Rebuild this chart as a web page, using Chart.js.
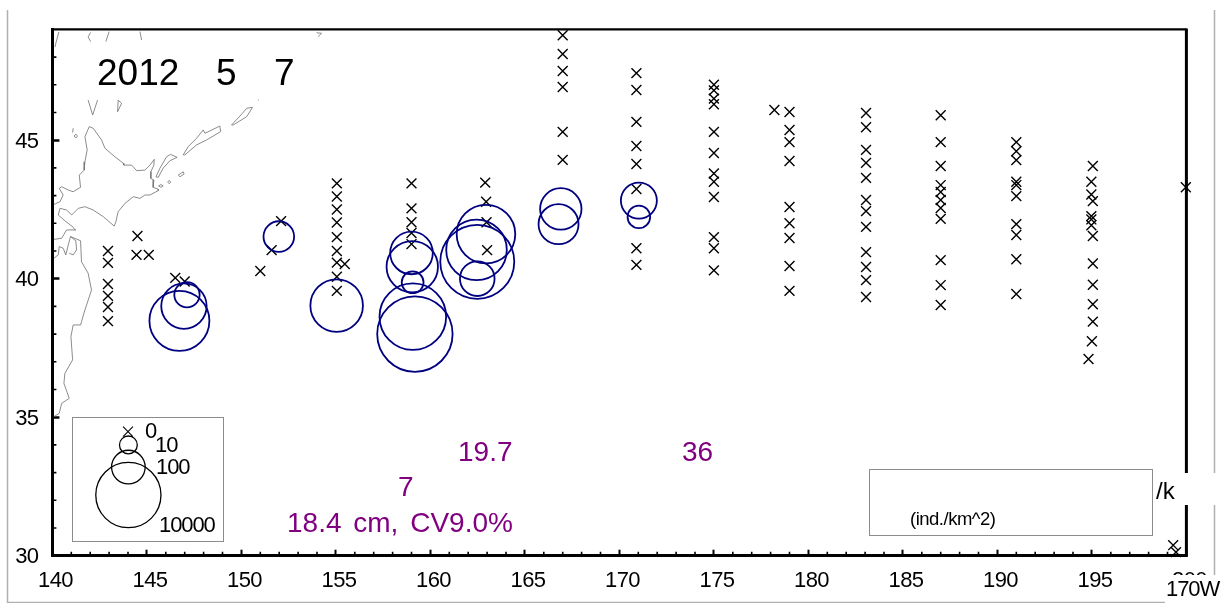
<!DOCTYPE html>
<html><head><meta charset="utf-8">
<style>html,body{margin:0;padding:0;background:#fff}canvas{display:block}</style>
<script src="https://cdn.jsdelivr.net/npm/chart.js@4/dist/chart.umd.min.js"></script>
</head><body><canvas id="c" width="1229" height="603" style="width:1229px;height:603px"></canvas>
<script>
const xTicks=[140,145,150,155,160,165,170,175,180,185,190,195,200];
const yTicks=[30,35,40,45];
const stationLon=[142.94,142.94,142.94,142.94,142.94,142.94,144.5,144.45,145.1,146.5,147.0,151.0,151.6,152.1,
155.05,155.05,155.05,155.05,155.05,155.05,155.05,155.05,155.05,155.47,
159.0,159.0,159.0,159.0,159.0,162.9,162.95,162.97,163.0,
167,167,167,167,167,167,
170.9,170.9,170.9,170.9,170.9,170.9,170.9,170.9,
175,175,175,175,175,175,175,175,175,175,175,175,
178.2,179,179,179,179,179,179,179,179,179,
183.05,183.05,183.05,183.05,183.05,183.05,183.05,183.05,183.05,183.05,183.05,183.05,
187,187,187,187,187,187,187,187,187,187,187,
191,191,191,191,191,191,191,191,191,191,
195.05,194.97,194.97,195.05,194.97,194.97,194.97,195.05,195.05,195.05,195.05,195.05,195.0,194.82,
199.97,199.3,199.45];
const stationLat=[41.0,40.57,39.81,39.38,38.98,38.47,41.54,40.86,40.86,40.03,39.9,40.28,41.03,42.08,
43.44,42.97,42.5,42.03,41.5,41.0,40.58,40.07,39.56,40.53,
43.44,42.54,42.04,41.65,41.25,43.47,42.78,42.04,41.03,
48.79,48.11,47.5,46.92,45.3,44.29,
47.42,46.81,45.66,44.79,44.14,43.24,41.1,40.5,
47.0,46.8,46.5,46.3,45.3,44.54,43.8,43.5,42.95,41.5,41.1,40.3,
46.09,46.02,45.37,44.93,44.25,42.59,42.0,41.47,40.46,39.56,
45.98,45.47,44.65,44.18,43.64,42.84,42.44,41.87,40.96,40.42,39.95,39.34,
45.9,44.93,44.07,43.38,43.13,42.84,42.55,42.16,40.67,39.77,39.05,
44.93,44.6,44.28,43.5,43.38,42.98,41.97,41.58,40.7,39.45,
44.07,43.5,43.04,42.8,42.26,42.14,41.93,41.54,40.55,39.78,39.08,38.45,37.74,37.1,
43.3,30.38,30.13];
const catchLon=[146.72,146.96,147.12,151.98,155.04,159.07,159.18,159.06,159.04,159.0,162.48,162.44,162.94,162.48,166.9,166.78,171.03,171.03];
const catchLat=[38.48,39.01,39.42,41.52,39.03,38.63,38.0,39.87,40.43,40.93,40.61,41.04,41.61,40.0,42.52,41.97,42.82,42.23];
const catchDensity=[4680,558,30,65,1590,12300,44200,18,1340,371,36000,5100,3820,116,311,254,142,20];
const keyLon=[144.02,144.02,144.02];
const keyLat=[34.0,33.2,32.19];
const keyDensity=[10,100,10000];
const keyZeroLon=[144.0];
const keyZeroLat=[34.48];
const coastLines=[
[[141.95,45.49],[142.16,45.43],[142.60,45.01],[142.78,44.71],[143.31,44.40],[143.75,44.17],[143.78,44.10],[144.19,44.10],[144.46,43.90],[144.89,43.92],[145.16,44.10],[145.39,44.31],[145.37,44.10],[145.21,43.86],[145.21,43.62],[145.37,43.56],[145.33,43.30],[145.60,43.23],[145.60,43.18],[145.16,43.02],[144.89,43.02],[144.63,42.90],[144.28,42.96],[143.84,42.72],[143.48,42.42],[143.36,42.06],[143.27,41.90],[142.69,42.24],[142.16,42.48],[141.72,42.60],[141.37,42.54],[141.02,42.30],[140.75,42.48],[140.40,42.54],[140.31,42.30],[140.66,42.09],[141.10,41.86],[141.19,41.76],[141.24,41.76],[140.75,41.76],[140.49,41.46],[140.08,41.42]],
[[141.95,45.49],[141.72,45.13],[141.84,44.65],[141.72,44.22],[141.68,43.92],[141.42,43.74],[141.49,43.30],[141.10,43.14],[140.84,43.20],[140.49,43.32],[140.36,43.26],[140.57,43.02],[140.40,42.78],[140.08,42.68]],
[[140.08,40.74],[140.31,40.86],[140.36,41.16],[140.57,41.10],[140.71,40.86],[140.84,41.22],[140.96,41.52],[141.24,41.37],[141.28,41.04],[141.10,40.86],[140.89,40.92]],
[[140.96,41.52],[141.49,41.37],[141.54,40.61],[141.89,40.20],[142.07,39.59],[141.72,38.87],[141.54,38.45],[141.49,38.33],[141.10,38.33],[140.98,37.91],[141.07,37.07],[140.66,36.58],[140.61,36.22],[140.89,35.68],[140.49,35.50],[140.36,35.14],[140.08,35.02]],
[[145.48,43.68],[145.69,43.99],[146.04,44.40],[146.25,44.49],[146.60,44.38],[146.22,44.26],[145.86,43.99],[145.60,43.66],[145.48,43.68]],
[[146.92,44.47],[147.19,44.77],[147.63,45.07],[147.98,45.37],[148.07,45.25],[148.86,45.51],[148.90,45.31],[148.16,45.01],[147.63,44.83],[147.01,44.47],[146.92,44.47]],
[[149.48,45.55],[149.92,45.87],[150.28,46.15],[150.59,46.19],[150.28,45.85],[149.57,45.55],[149.48,45.55]],
[[150.87,46.45],[150.92,46.45]],
[[146.66,43.74],[146.92,43.86],[146.97,43.78],[146.75,43.68],[146.66,43.74]],
[[146.10,43.49],[146.18,43.55],[146.26,43.49],[146.18,43.43],[146.10,43.49]],
[[145.62,43.35],[145.74,43.40],[145.86,43.35],[145.74,43.30],[145.62,43.35]],
[[141.15,45.15],[141.24,45.22],[141.33,45.15],[141.24,45.08],[141.15,45.15]],
[[141.10,45.43],[141.07,45.28]],
[[141.89,46.45],[142.13,45.91],[142.39,46.45]],
[[143.48,46.45],[143.45,46.03],[143.66,46.33],[143.48,46.45]],
[[140.34,48.91],[140.13,48.36]],
[[142.02,48.89],[141.89,48.73],[142.02,48.56]],
[[143.0,48.92],[142.83,48.56]],
[[144.63,48.92],[144.72,48.62]],
[[153.98,48.88],[154.24,48.86],[154.06,48.74]]
];
const titleYear="2012",titleMonth="5",titleDay="7";
const purpleLabels=["19.7","36","7","18.4 cm, CV9.0%"];
const keyLabels=["0","10","100","10000"];
const unitLabel="(ind./km^2)";
const slashLabel="/k";
const cornerLabel="170W";

const FONT='"Liberation Sans",Arial,sans-serif';
const radiusOf=d=>1+7.9*Math.log10(d);
const points=(lon,lat)=>lon.map((x,i)=>({x,y:lat[i]}));
const bubbles=(lon,lat,d)=>lon.map((x,i)=>({x,y:lat[i],r:radiusOf(d[i])}));

const coastSets=coastLines.map(seg=>({type:'scatter',showLine:true,data:seg.map(p=>({x:p[0],y:p[1]})),borderColor:'#6e6e6e',borderWidth:0.8,pointRadius:0,order:5}));

const overlay={id:'overlay',
 beforeDraw(ch){const c=ch.ctx;c.save();c.fillStyle='#fff';c.fillRect(0,0,ch.width,ch.height);c.restore();c.letterSpacing='-0.7px';},
 beforeDatasetsDraw(ch){
  const c=ch.ctx,a=ch.chartArea,xs=ch.scales.x,ys=ch.scales.y;
  c.save();c.strokeStyle='#000';c.lineWidth=1.6;c.beginPath();
  for(let v=141;v<200;v++){if(v%5){const p=xs.getPixelForValue(v);c.moveTo(p,a.bottom);c.lineTo(p,a.bottom-4);}}
  for(let v=31;v<49;v++){if(v%5){const p=ys.getPixelForValue(v);c.moveTo(a.left,p);c.lineTo(a.left+4,p);}}
  c.stroke();
  c.lineWidth=2.2;c.beginPath();c.moveTo(a.left,a.top);c.lineTo(a.right,a.top);c.stroke();
  c.lineWidth=3;c.beginPath();c.moveTo(a.right,a.top-1);c.lineTo(a.right,a.bottom+1);c.stroke();
  c.strokeStyle='#8c8c8c';c.lineWidth=1;
  c.strokeRect(72.5,417.5,151,124);
  c.strokeRect(869.5,469.5,283,66);
  c.restore();
 },
 afterDraw(ch){
  const c=ch.ctx;c.save();
  c.strokeStyle='#b0b0b0';c.lineWidth=1.5;c.beginPath();
  c.moveTo(7.5,10);c.lineTo(7.5,602.5);c.lineTo(1214.5,602.5);c.lineTo(1214.5,10);c.stroke();
  c.fillStyle='#fff';c.fillRect(1153,473,75,32);c.fillRect(1165,575,64,28);
  c.textBaseline='middle';c.textAlign='left';c.fillStyle='#000';c.letterSpacing='0px';
  c.font='37px '+FONT;
  c.fillText(titleYear,97,75);c.fillText(titleMonth,216,75);c.fillText(titleDay,274,75);
  c.font='24px '+FONT;c.fillText(slashLabel,1156,492);
  c.letterSpacing='-1.1px';c.font='22px '+FONT;
  c.fillText(cornerLabel,1166,590);
  c.fillText(keyLabels[0],145,432);c.fillText(keyLabels[1],155,446);c.fillText(keyLabels[2],156,468);c.fillText(keyLabels[3],159,526);
  c.letterSpacing='-0.5px';c.font='18.5px '+FONT;c.fillText(unitLabel,910,520);
  c.letterSpacing='0px';c.fillStyle='#800080';c.font='28px '+FONT;
  c.fillText(purpleLabels[0],458,453);c.fillText(purpleLabels[1],682,453);c.fillText(purpleLabels[2],398,488);
  c.wordSpacing='4px';c.fillText(purpleLabels[3],287,524);c.wordSpacing='0px';
  c.restore();
 }};

new Chart(document.getElementById('c'),{
 data:{datasets:[
  ...coastSets,
  {type:'scatter',label:'stations',data:points(stationLon,stationLat),pointStyle:'crossRot',pointRadius:7,borderColor:'#000',backgroundColor:'#000',pointBorderWidth:1.4,clip:false,order:3},
  {type:'bubble',label:'density',data:bubbles(catchLon,catchLat,catchDensity),borderColor:'#000080',backgroundColor:'rgba(0,0,0,0)',borderWidth:1.8,clip:false,order:2},
  {type:'scatter',label:'key zero',data:points(keyZeroLon,keyZeroLat),pointStyle:'crossRot',pointRadius:7,borderColor:'#000',pointBorderWidth:1.1,order:1},
  {type:'bubble',label:'key',data:bubbles(keyLon,keyLat,keyDensity),borderColor:'#000',backgroundColor:'rgba(0,0,0,0)',borderWidth:1.3,clip:false,order:1}
 ]},
 options:{responsive:false,animation:false,devicePixelRatio:1,
  layout:{autoPadding:false,padding:{left:0,top:29.4,right:42.6,bottom:0}},
  plugins:{legend:{display:false},tooltip:{enabled:false},title:{display:false}},
  events:[],
  scales:{
   x:{type:'linear',min:140,max:200,
    afterBuildTicks(s){s.ticks=xTicks.map(value=>({value}));},
    afterFit(s){s.height=47.3;s.paddingLeft=0;s.paddingRight=0;},
    grid:{drawOnChartArea:false,tickLength:-6,tickWidth:2,tickColor:'#000'},
    border:{display:true,color:'#000',width:3},
    ticks:{autoSkip:false,maxRotation:0,padding:18,labelOffset:3,color:'#000',font:{family:FONT,size:22}}},
   y:{type:'linear',min:30,max:49,
    afterBuildTicks(s){s.ticks=yTicks.map(value=>({value}));},
    afterFit(s){s.width=52.4;s.paddingTop=0;s.paddingBottom=0;},
    grid:{drawOnChartArea:false,tickLength:-7,tickWidth:2.5,tickColor:'#000'},
    border:{display:true,color:'#000',width:3},
    ticks:{padding:21,labelOffset:1.5,color:'#000',font:{family:FONT,size:22}}}
  }},
 plugins:[overlay]
});
</script></body></html>
